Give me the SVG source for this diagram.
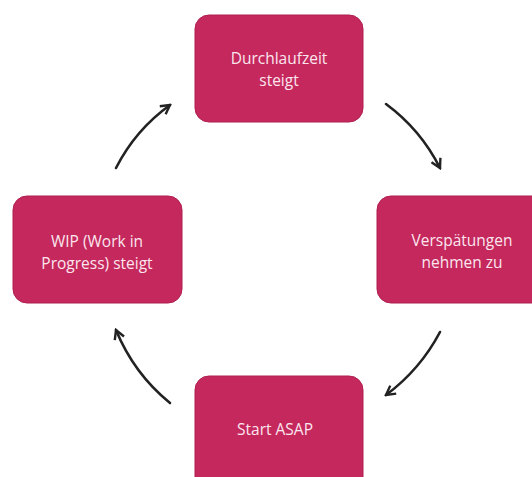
<svg xmlns="http://www.w3.org/2000/svg" width="532" height="477" viewBox="0 0 532 477">
<defs>
<style>
.box{fill:#c4285d;stroke:#b01f50;stroke-width:1}
.lbl{font-family:"Open Sans","Liberation Sans",sans-serif;font-size:15.5px;fill:#fbe6ee;text-anchor:middle}
.con{fill:none;stroke:#222;stroke-width:2.6;stroke-linecap:round}
</style>
<marker id="ah" viewBox="0 0 12 12" refX="10" refY="6" markerWidth="12" markerHeight="12" markerUnits="userSpaceOnUse" orient="auto">
<polyline points="1,1 10,6 1,11" fill="none" stroke="#222" stroke-width="2.4" stroke-linejoin="miter"/>
</marker>
</defs>
<rect width="532" height="477" fill="#ffffff"/>
<g id="connectors">
<path class="con" d="M116,168 A176,176 0 0 1 170,105" marker-end="url(#ah)"/>
<path class="con" d="M386,104 A181,181 0 0 1 440,168" marker-end="url(#ah)"/>
<path class="con" d="M440,332 A187,187 0 0 1 386,395" marker-end="url(#ah)"/>
<path class="con" d="M170,403 A184,184 0 0 1 116,330" marker-end="url(#ah)"/>
</g>
<g id="n-durchlaufzeit">
<rect class="box" x="195" y="15" width="168" height="107" rx="14"/>
<text class="lbl" x="279" y="64">Durchlaufzeit</text>
<text class="lbl" x="279" y="86">steigt</text>
</g>
<g id="n-verspaetungen">
<rect class="box" x="377" y="196" width="170" height="107" rx="14"/>
<text class="lbl" x="462" y="246">Verspätungen</text>
<text class="lbl" x="462" y="268">nehmen zu</text>
</g>
<g id="n-start">
<rect class="box" x="195" y="376" width="168" height="115" rx="14"/>
<text class="lbl" x="275" y="435">Start ASAP</text>
</g>
<g id="n-wip">
<rect class="box" x="13" y="196" width="169" height="107" rx="14"/>
<text class="lbl" x="97" y="247">WIP (Work in</text>
<text class="lbl" x="97" y="269">Progress) steigt</text>
</g>
</svg>
